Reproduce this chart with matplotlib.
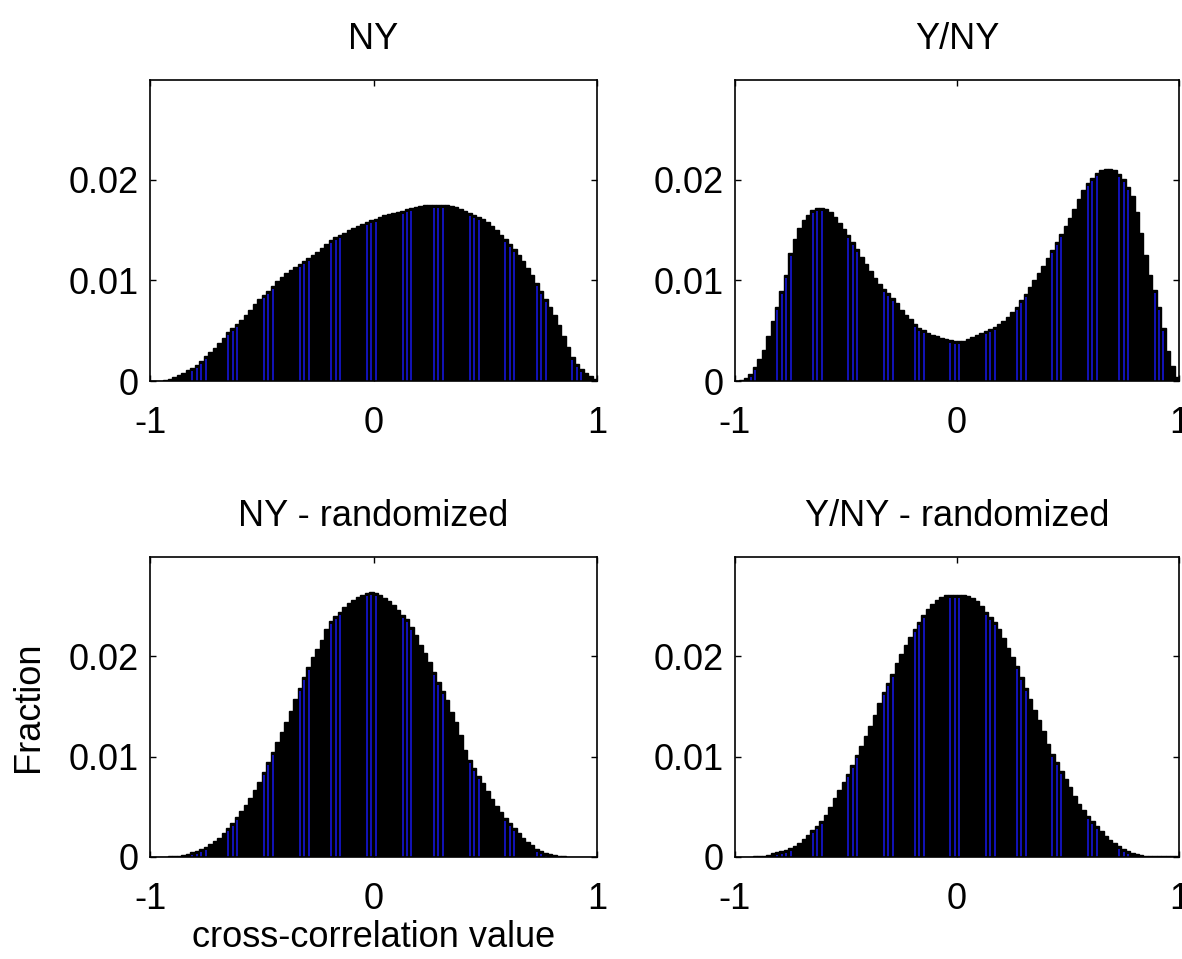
import numpy as np
import matplotlib
matplotlib.use("Agg")
import matplotlib.pyplot as plt

plt.rcParams['font.family'] = ['Liberation Sans', 'DejaVu Sans']
plt.rcParams['axes.unicode_minus'] = False

# 100 histogram bins between -1 and 1
bin_centers = np.arange(-0.99, 1.0, 0.02)

ny = [
    0.0000, 0.0000, 0.0000, 0.0001, 0.0002, 0.0004, 0.0006, 0.0008, 0.0011, 0.0013,
    0.0016, 0.0020, 0.0025, 0.0029, 0.0033, 0.0038, 0.0043, 0.0049, 0.0053, 0.0057,
    0.0061, 0.0066, 0.0071, 0.0076, 0.0081, 0.0085, 0.0089, 0.0094, 0.0099, 0.0103,
    0.0107, 0.0110, 0.0113, 0.0116, 0.0119, 0.0122, 0.0125, 0.0128, 0.0132, 0.0136,
    0.0140, 0.0143, 0.0145, 0.0147, 0.0150, 0.0152, 0.0154, 0.0156, 0.0158, 0.0160,
    0.0161, 0.0163, 0.0165, 0.0166, 0.0167, 0.0168, 0.0169, 0.0171, 0.0172, 0.0173,
    0.0174, 0.0175, 0.0175, 0.0175, 0.0175, 0.0175, 0.0175, 0.0174, 0.0173, 0.0171,
    0.0169, 0.0167, 0.0165, 0.0163, 0.0161, 0.0158, 0.0154, 0.0150, 0.0145, 0.0141,
    0.0136, 0.0131, 0.0125, 0.0119, 0.0112, 0.0105, 0.0097, 0.0089, 0.0081, 0.0074,
    0.0066, 0.0056, 0.0045, 0.0034, 0.0024, 0.0017, 0.0012, 0.0008, 0.0005, 0.0002,
]

y_ny = [
    0.0000, 0.0001, 0.0003, 0.0007, 0.0014, 0.0022, 0.0031, 0.0045, 0.0060, 0.0074,
    0.0089, 0.0105, 0.0127, 0.0141, 0.0152, 0.0160, 0.0165, 0.0170, 0.0172, 0.0172,
    0.0171, 0.0168, 0.0163, 0.0157, 0.0151, 0.0145, 0.0138, 0.0131, 0.0123, 0.0116,
    0.0109, 0.0102, 0.0096, 0.0091, 0.0087, 0.0082, 0.0077, 0.0071, 0.0066, 0.0062,
    0.0057, 0.0053, 0.0051, 0.0048, 0.0046, 0.0045, 0.0043, 0.0042, 0.0041, 0.0040,
    0.0040, 0.0040, 0.0042, 0.0044, 0.0046, 0.0048, 0.0050, 0.0052, 0.0054, 0.0057,
    0.0060, 0.0064, 0.0069, 0.0074, 0.0080, 0.0086, 0.0093, 0.0100, 0.0107, 0.0114,
    0.0122, 0.0130, 0.0138, 0.0146, 0.0154, 0.0162, 0.0171, 0.0181, 0.0190, 0.0197,
    0.0202, 0.0207, 0.0210, 0.0211, 0.0211, 0.0210, 0.0206, 0.0201, 0.0193, 0.0184,
    0.0168, 0.0147, 0.0125, 0.0105, 0.0090, 0.0074, 0.0053, 0.0030, 0.0015, 0.0004,
]

ny_rand = [
    0.0000, 0.0000, 0.0000, 0.0000, 0.0001, 0.0001, 0.0001, 0.0002, 0.0003, 0.0005,
    0.0006, 0.0008, 0.0010, 0.0013, 0.0016, 0.0019, 0.0024, 0.0029, 0.0034, 0.0040,
    0.0046, 0.0052, 0.0059, 0.0067, 0.0075, 0.0085, 0.0095, 0.0105, 0.0115, 0.0125,
    0.0135, 0.0146, 0.0157, 0.0168, 0.0179, 0.0189, 0.0199, 0.0207, 0.0216, 0.0227,
    0.0235, 0.0240, 0.0244, 0.0249, 0.0253, 0.0256, 0.0259, 0.0261, 0.0263, 0.0264,
    0.0263, 0.0261, 0.0258, 0.0255, 0.0251, 0.0246, 0.0241, 0.0237, 0.0229, 0.0221,
    0.0211, 0.0203, 0.0194, 0.0184, 0.0174, 0.0165, 0.0156, 0.0145, 0.0135, 0.0122,
    0.0107, 0.0097, 0.0089, 0.0081, 0.0074, 0.0066, 0.0058, 0.0051, 0.0045, 0.0039,
    0.0034, 0.0029, 0.0024, 0.0019, 0.0015, 0.0012, 0.0008, 0.0006, 0.0004, 0.0003,
    0.0002, 0.0001, 0.0001, 0.0000, 0.0000, 0.0000, 0.0000, 0.0000, 0.0000, 0.0000,
]

y_ny_rand = [
    0.0000, 0.0000, 0.0000, 0.0000, 0.0001, 0.0001, 0.0001, 0.0002, 0.0004, 0.0005,
    0.0006, 0.0007, 0.0009, 0.0011, 0.0014, 0.0018, 0.0022, 0.0027, 0.0031, 0.0036,
    0.0042, 0.0050, 0.0059, 0.0067, 0.0075, 0.0083, 0.0092, 0.0102, 0.0111, 0.0121,
    0.0131, 0.0142, 0.0153, 0.0164, 0.0173, 0.0182, 0.0193, 0.0202, 0.0211, 0.0219,
    0.0227, 0.0234, 0.0241, 0.0247, 0.0252, 0.0256, 0.0259, 0.0261, 0.0261, 0.0261,
    0.0261, 0.0261, 0.0260, 0.0258, 0.0255, 0.0250, 0.0244, 0.0239, 0.0234, 0.0227,
    0.0218, 0.0208, 0.0199, 0.0190, 0.0179, 0.0168, 0.0157, 0.0147, 0.0137, 0.0126,
    0.0113, 0.0103, 0.0095, 0.0086, 0.0078, 0.0070, 0.0061, 0.0053, 0.0047, 0.0041,
    0.0036, 0.0031, 0.0026, 0.0021, 0.0017, 0.0014, 0.0011, 0.0008, 0.0006, 0.0004,
    0.0003, 0.0002, 0.0001, 0.0001, 0.0001, 0.0001, 0.0001, 0.0001, 0.0001, 0.0001,
]

titles = ['NY', 'Y/NY', 'NY - randomized', 'Y/NY - randomized']
series = [ny, y_ny, ny_rand, y_ny_rand]

W, H = 1182, 959
fig = plt.figure(figsize=(W / 100, H / 100), dpi=100)

# axes boxes in pixels: left, top, right, bottom
boxes = [(150, 80, 597, 381), (735, 80, 1179, 381),
         (150, 557, 597, 857), (735, 557, 1179, 857)]

blue = '#1212b4'
fs = 26

for k, (box, title, vals) in enumerate(zip(boxes, titles, series)):
    l, t, r, b = box
    ax = fig.add_axes([l / W, 1 - b / H, (r - l) / W, (b - t) / H])
    vals = np.array(vals)
    ax.bar(bin_centers, vals, width=0.02, color='black', edgecolor='black',
           linewidth=1.0)
    # aliasing stripes seen in the original render
    stripe = ((np.arange(len(vals)) * 0.13 + 0.83) % 1) < 0.4
    tops = np.clip(vals - 0.0003, 0, None)
    ax.vlines(bin_centers[stripe], 0, tops[stripe], color=blue, linewidth=1.3,
              antialiased=False)

    ax.set_xlim(-1, 1)
    ax.set_ylim(0, 0.0299)
    ax.set_xticks([-1, 0, 1])
    ax.set_xticklabels(['-1', '0', '1'])
    ax.set_yticks([0, 0.01, 0.02])
    ax.set_yticklabels(['0', '0.01', '0.02'])
    ax.tick_params(direction='in', top=True, right=True, length=4, width=1,
                   labelsize=fs)
    ax.tick_params(axis='x', pad=18)
    ax.tick_params(axis='y', pad=8)
    for sp in ax.spines.values():
        sp.set_linewidth(1.2)
    ax.set_title(title, fontsize=fs, pad=22)
    if k == 2:
        ax.set_xlabel('cross-correlation value', fontsize=fs, labelpad=2)
        ax.set_ylabel('Fraction', fontsize=fs, labelpad=16)

fig.savefig('out.png', dpi=100)
